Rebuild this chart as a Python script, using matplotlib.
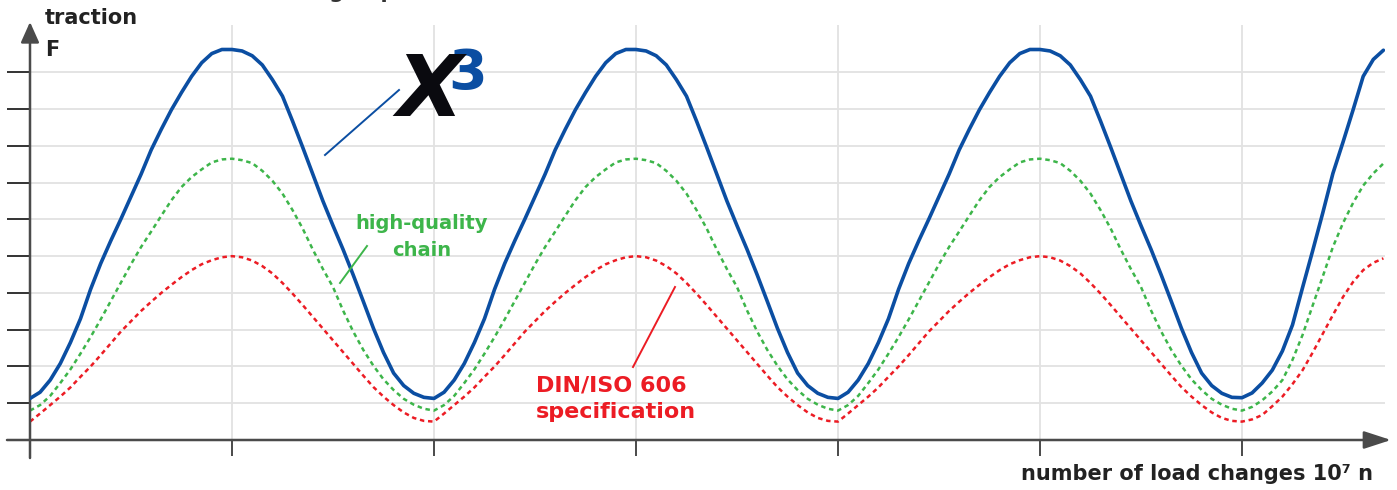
import matplotlib.pyplot as plt
from matplotlib.lines import Line2D

# 数据：一个周期（横坐标 0 ~ 1.95，步长 0.05）读出的牵引力值，图中曲线重复三个周期，最后一段单独读取
step = 0.05

x3_period = [1.13, 1.30, 1.63, 2.08, 2.65, 3.30, 4.10, 4.80, 5.42, 6.01,
             6.62, 7.23, 7.89, 8.45, 8.98, 9.45, 9.89, 10.26, 10.51, 10.62,
             10.62, 10.58, 10.45, 10.20, 9.80, 9.35, 8.67, 7.96, 7.23, 6.50,
             5.83, 5.18, 4.49, 3.77, 3.04, 2.38, 1.82, 1.48, 1.27, 1.16]
x3_tail = [1.15, 1.28, 1.55, 1.90, 2.42, 3.13, 4.15, 5.15, 6.18, 7.25,
           8.10, 8.98, 9.89, 10.35, 10.60]

hq_period = [0.80, 0.95, 1.20, 1.55, 1.92, 2.35, 2.80, 3.28, 3.78, 4.28,
             4.78, 5.25, 5.67, 6.10, 6.52, 6.88, 7.15, 7.36, 7.55, 7.63,
             7.65, 7.61, 7.53, 7.32, 7.05, 6.70, 6.25, 5.75, 5.18, 4.65,
             4.16, 3.52, 2.95, 2.45, 2.02, 1.65, 1.36, 1.12, 0.96, 0.85]
hq_tail = [0.80, 0.90, 1.08, 1.32, 1.63, 2.18, 2.86, 3.66, 4.45, 5.25,
           5.90, 6.45, 6.92, 7.25, 7.52]

din_period = [0.50, 0.72, 0.95, 1.18, 1.43, 1.72, 2.00, 2.31, 2.63, 2.95,
              3.23, 3.51, 3.76, 4.00, 4.22, 4.43, 4.62, 4.78, 4.89, 4.97,
              5.00, 4.97, 4.88, 4.73, 4.53, 4.27, 3.98, 3.67, 3.35, 3.03,
              2.71, 2.39, 2.07, 1.75, 1.44, 1.18, 0.95, 0.75, 0.60, 0.52]
din_tail = [0.50, 0.56, 0.68, 0.92, 1.18, 1.52, 1.90, 2.38, 2.89, 3.40,
            3.89, 4.30, 4.62, 4.82, 4.94]

x3_chain = x3_period + x3_period + x3_period + x3_tail
high_quality = hq_period + hq_period + hq_period + hq_tail
din_iso = din_period + din_period + din_period + din_tail
load_changes = [i * step for i in range(len(x3_chain))]

x_ticks = [0, 1, 2, 3, 4, 5, 6]
y_ticks = [0, 1, 2, 3, 4, 5, 6, 7, 8, 9, 10]

W, H = 1397, 490
BLUE = '#0b4ea2'
GREEN = '#3db54a'
RED = '#ec1c24'
AXIS = '#4a4a4a'


def fp(x, y):
    # 像素坐标（左上为原点）转换为 figure 坐标
    return x / W, 1 - y / H


def leader(p0, p1, color):
    (x0, y0), (x1, y1) = fp(*p0), fp(*p1)
    fig.add_artist(Line2D([x0, x1], [y0, y1], color=color, lw=1.4))


fig = plt.figure(figsize=(W / 100, H / 100), dpi=100)
ax = fig.add_axes([30 / W, 50 / H, 1355 / W, 415 / H])
ax.set_xlim(0, 1355 / 202)
ax.set_ylim(0, 415 / 36.77)

# 网格和刻度
ax.set_xticks(x_ticks)
ax.set_yticks(y_ticks)
ax.grid(True, color='#e2e2e2', lw=1.3, zorder=0)
ax.tick_params(axis='y', direction='out', length=16.5, width=1.4, color='#333333', labelleft=False)
ax.tick_params(axis='x', direction='out', length=11.5, width=1.4, color=AXIS, labelbottom=False)
for s in ax.spines.values():
    s.set_visible(False)

# 曲线
ax.plot(load_changes, high_quality, color=GREEN, lw=1.8, ls=(0, (1.8, 1.5)), zorder=3)
ax.plot(load_changes, din_iso, color=RED, lw=1.8, ls=(0, (1.8, 1.5)), zorder=3)
ax.plot(load_changes, x3_chain, color=BLUE, lw=2.6, zorder=4,
        solid_capstyle='round', solid_joinstyle='round')

# 坐标轴箭头
ax.annotate('', xy=fp(1391, 440), xytext=fp(7, 440), xycoords='figure fraction',
            arrowprops=dict(arrowstyle='-|>,head_length=1.66,head_width=0.54',
                            color=AXIS, lw=1.8, shrinkA=0, shrinkB=0, mutation_scale=10))
ax.annotate('', xy=fp(30, 22), xytext=fp(30, 458), xycoords='figure fraction',
            arrowprops=dict(arrowstyle='-|>,head_length=1.25,head_width=0.56',
                            color=AXIS, lw=1.8, shrinkA=0, shrinkB=0, mutation_scale=10))

# 坐标轴标签
fig.text(*fp(45, 18), 'traction', fontsize=15, fontweight='bold', color='#222222', va='center', ha='left')
fig.text(*fp(45, 50), 'F', fontsize=15, fontweight='bold', color='#222222', va='center', ha='left')
fig.text(*fp(1373, 474), 'number of load changes 10\u2077 n', fontsize=15, fontweight='bold',
         color='#222222', va='center', ha='right')

# 被裁掉的标题（原图只露出底部）
fig.text(*fp(410, 2), 'fatigue performance', fontsize=15, fontweight='bold',
         color='#333333', va='bottom', ha='center')

# 标注文字
fig.text(*fp(422, 237), 'high-quality\nchain', fontsize=14, fontweight='bold', color=GREEN,
         va='center', ha='center', linespacing=1.55, multialignment='center')
fig.text(*fp(536, 399), 'DIN/ISO 606\nspecification', fontsize=16, fontweight='bold', color=RED,
         va='center', ha='left', linespacing=1.4)

# 引线
leader((325, 155), (399, 90), BLUE)
leader((340, 283), (367, 246), GREEN)
leader((633, 367), (675, 287), RED)

# X3 标志
fig.text(*fp(468, 74), '3', fontsize=40, fontweight='bold', color=BLUE,
         va='center', ha='center', zorder=5)
fig.text(*fp(430, 92), 'X', fontsize=62, fontweight='bold', style='italic', color='#0a0a0f',
         va='center', ha='center', zorder=6)

fig.savefig('out.png', dpi=100)
